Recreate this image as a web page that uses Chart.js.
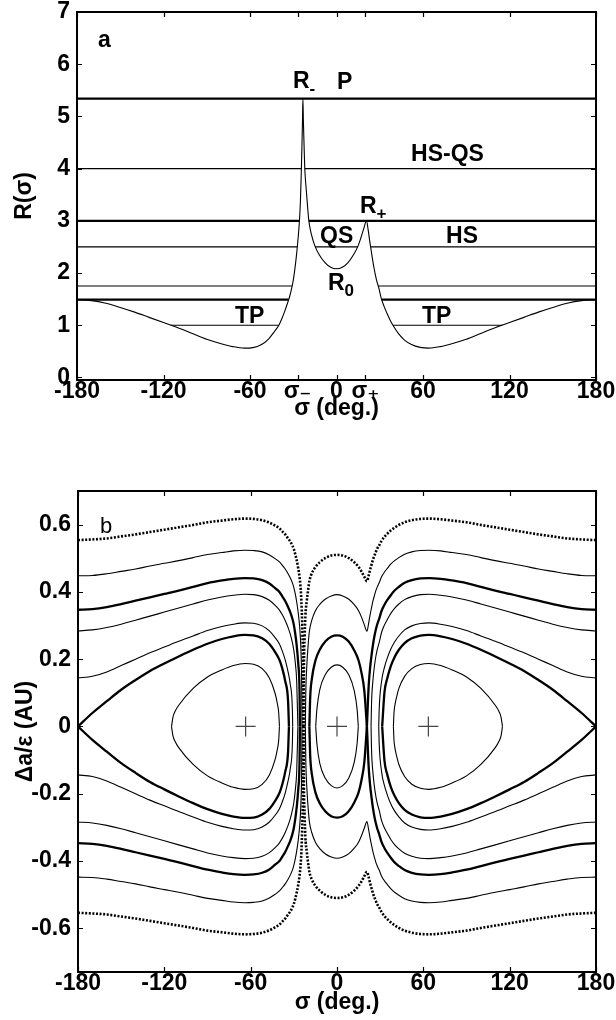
<!DOCTYPE html>
<html>
<head>
<meta charset="utf-8">
<script src="https://cdn.jsdelivr.net/npm/chart.js@4.4.0/dist/chart.umd.min.js"></script>
<style>
  html, body { margin: 0; padding: 0; background: #fff; }
  #wrap { position: relative; width: 616px; height: 1020px; }
  #boxA { position: absolute; left: 0; top: 0; width: 616px; height: 440px; }
  #boxB { position: absolute; left: 0; top: 440px; width: 616px; height: 580px; }
</style>
</head>
<body>
<div id="wrap">
  <div id="boxA"><canvas id="chartA"></canvas></div>
  <div id="boxB"><canvas id="chartB"></canvas></div>
</div>
<script>
// --- panel a : R(sigma) ---
const R_CURVE = [[-180,1.49],[-170,1.47],[-160,1.42],[-150,1.34],[-140,1.25],[-130,1.15],[-120,1.05],[-110,0.95],[-100,0.84],[-90,0.73],[-80,0.645],[-72,0.59],[-64,0.56],[-58,0.57],[-52,0.63],[-47,0.74],[-43,0.88],[-40,1.00],[-38,1.12],[-36,1.26],[-34,1.42],[-32.5,1.55],[-31,1.72],[-30,1.86],[-29,2.05],[-28,2.28],[-27,2.55],[-26,2.88],[-25.5,3.10],[-25,3.40],[-24.5,3.85],[-24,4.40],[-23.6,4.90],[-23.3,5.34],[-23,4.95],[-22.5,4.45],[-22,4.00],[-21,3.60],[-20,3.25],[-19.2,3.00],[-17.5,2.75],[-15,2.52],[-12,2.35],[-8,2.20],[-4,2.11],[0,2.08],[4,2.11],[8,2.20],[12,2.36],[15,2.52],[17,2.68],[19,2.86],[20.8,3.00],[22,2.82],[23,2.62],[24,2.44],[25,2.26],[26,2.10],[27,1.96],[28,1.84],[29.3,1.72],[31,1.52],[33,1.36],[35,1.23],[37.5,1.08],[40,0.96],[43,0.84],[47,0.72],[52,0.63],[58,0.575],[64,0.56],[72,0.59],[80,0.645],[90,0.73],[100,0.84],[110,0.95],[120,1.05],[130,1.15],[140,1.25],[150,1.34],[160,1.42],[170,1.47],[180,1.49]];

// horizontal energy levels, as segments [sigma, R]
const LEVEL_P    = [[[-180,5.34],[180,5.34]]];
const LEVEL_HSQS = [[[-180,4],[-24.36,4]], [[-22,4],[180,4]]];
const LEVEL_3    = [[[-180,3],[-25.77,3]], [[-19.2,3],[180,3]]];
const LEVEL_25   = [[[-180,2.5],[-27.19,2.5]], [[-14.8,2.5],[14.8,2.5]], [[23.67,2.5],[180,2.5]]];
const LEVEL_175  = [[[-180,1.75],[-30.79,1.75]], [[29,1.75],[180,1.75]]];
const LEVEL_149  = [[[-180,1.49],[-33.4,1.49]], [[31.4,1.49],[180,1.49]]];
const LEVEL_1    = [[[-115,1],[-40,1]], [[39.2,1],[115,1]]];

const X_TICKS_A = [-180, -120, -60, -27, 0, 20, 60, 120, 180];
const X_LABELS_A = ['-180', '-120', '-60', 'σ\u208B', '0', 'σ\u208A', '60', '120', '180'];
const Y_TICKS_A = [0, 1, 2, 3, 4, 5, 6, 7];

// --- panel b : upper halves of the Δa/ε contours (lower halves are mirror images) ---
const DA_P_L = [[-180,0.554],[-170,0.556],[-160,0.559],[-150,0.565],[-140,0.571],[-130,0.578],[-120,0.585],[-110,0.592],[-100,0.599],[-90,0.607],[-80,0.612],[-72,0.616],[-64,0.618],[-58,0.617],[-52,0.613],[-47,0.606],[-43,0.597],[-40,0.589],[-38,0.580],[-36,0.571],[-34,0.559],[-32.5,0.550],[-31,0.538],[-30,0.527],[-29,0.512],[-28,0.494],[-27,0.472],[-26,0.443],[-25.5,0.423],[-25,0.393],[-24.5,0.345],[-24,0.274],[-23.6,0.187],[-23.3,0]];
const DA_P_R = [[-23.3,0],[-23,0.176],[-22.5,0.266],[-22,0.327],[-21,0.373],[-20,0.408],[-19.2,0.432],[-17.5,0.455],[-15,0.474],[-12,0.488],[-8,0.501],[-4,0.508],[0,0.510],[4,0.508],[8,0.501],[12,0.488],[15,0.474],[17,0.461],[19,0.445],[20.8,0.432],[22,0.448],[23,0.466],[24,0.481],[25,0.496],[26,0.508],[27,0.519],[28,0.529],[29.3,0.538],[31,0.552],[33,0.564],[35,0.573],[37.5,0.583],[40,0.591],[43,0.599],[47,0.607],[52,0.613],[58,0.617],[64,0.618],[72,0.616],[80,0.612],[90,0.607],[100,0.599],[110,0.592],[120,0.585],[130,0.578],[140,0.571],[150,0.565],[160,0.559],[170,0.556],[180,0.554]];
const DA_4_L = [[-180,0.448],[-170,0.449],[-160,0.454],[-150,0.461],[-140,0.468],[-130,0.477],[-120,0.485],[-110,0.493],[-100,0.502],[-90,0.511],[-80,0.517],[-72,0.522],[-64,0.524],[-58,0.523],[-52,0.519],[-47,0.510],[-43,0.499],[-40,0.489],[-38,0.479],[-36,0.468],[-34,0.454],[-32.5,0.442],[-31,0.427],[-30,0.413],[-29,0.394],[-28,0.370],[-27,0.340],[-26,0.299],[-25.5,0.268],[-25,0.219],[-24.5,0.109],[-24.36,0]];
const DA_4_R = [[-22,0],[-21.7,0.098],[-21,0.179],[-20,0.245],[-19.2,0.283],[-17.5,0.316],[-15,0.344],[-12,0.363],[-8,0.379],[-4,0.388],[0,0.392],[4,0.388],[8,0.379],[12,0.362],[15,0.344],[17,0.325],[19,0.302],[20.8,0.283],[22,0.307],[23,0.332],[24,0.353],[25,0.373],[26,0.389],[27,0.404],[28,0.415],[29.3,0.427],[31,0.445],[33,0.459],[35,0.470],[37.5,0.483],[40,0.493],[43,0.502],[47,0.512],[52,0.519],[58,0.523],[64,0.524],[72,0.522],[80,0.517],[90,0.511],[100,0.502],[110,0.493],[120,0.485],[130,0.477],[140,0.468],[150,0.461],[160,0.454],[170,0.449],[180,0.448]];
const DA_3_L = [[-180,0.347],[-170,0.349],[-160,0.355],[-150,0.364],[-140,0.374],[-130,0.384],[-120,0.394],[-110,0.404],[-100,0.415],[-90,0.426],[-80,0.434],[-72,0.439],[-64,0.441],[-58,0.440],[-52,0.435],[-47,0.425],[-43,0.411],[-40,0.400],[-38,0.387],[-36,0.373],[-34,0.355],[-32.5,0.340],[-31,0.320],[-30,0.302],[-29,0.275],[-28,0.240],[-27,0.190],[-26,0.098],[-25.77,0]];
const DA_3_QS = [[-19.2,0],[-18.6,0.089],[-17.5,0.141],[-15,0.196],[-12,0.228],[-8,0.253],[-4,0.267],[0,0.271],[4,0.267],[8,0.253],[12,0.226],[15,0.196],[17,0.160],[19,0.106],[20.8,0]];
const DA_3_R = [[20.8,0],[22,0.120],[23,0.174],[24,0.211],[25,0.243],[26,0.268],[27,0.288],[28,0.304],[29.3,0.320],[31,0.344],[33,0.362],[35,0.376],[37.5,0.391],[40,0.404],[43,0.415],[47,0.427],[52,0.435],[58,0.440],[64,0.441],[72,0.439],[80,0.434],[90,0.426],[100,0.415],[110,0.404],[120,0.394],[130,0.384],[140,0.374],[150,0.364],[160,0.355],[170,0.349],[180,0.347]];
const DA_25_L = [[-180,0.284],[-170,0.287],[-160,0.294],[-150,0.304],[-140,0.316],[-130,0.328],[-120,0.340],[-110,0.352],[-100,0.364],[-90,0.376],[-80,0.385],[-72,0.390],[-64,0.393],[-58,0.392],[-52,0.386],[-47,0.375],[-43,0.360],[-40,0.346],[-38,0.332],[-36,0.315],[-34,0.294],[-32.5,0.275],[-31,0.249],[-30,0.226],[-29,0.190],[-28,0.133],[-27.19,0]];
const DA_25_QS = [[-14.8,0],[-14,0.05],[-12,0.109],[-8,0.155],[-4,0.176],[0,0.183],[4,0.176],[8,0.155],[12,0.106],[14,0.05],[14.8,0]];
const DA_25_R = [[23.67,0],[24,0.069],[25,0.138],[26,0.179],[27,0.208],[28,0.229],[29.3,0.249],[31,0.280],[33,0.302],[35,0.318],[37.5,0.337],[40,0.351],[43,0.364],[47,0.377],[52,0.386],[58,0.392],[64,0.393],[72,0.390],[80,0.385],[90,0.376],[100,0.364],[110,0.352],[120,0.340],[130,0.328],[140,0.316],[150,0.304],[160,0.294],[170,0.287],[180,0.284]];
const DA_175_L = [[-180,0.144],[-170,0.149],[-160,0.162],[-150,0.181],[-140,0.200],[-130,0.219],[-120,0.236],[-110,0.253],[-100,0.269],[-90,0.285],[-80,0.297],[-72,0.304],[-64,0.308],[-58,0.307],[-52,0.299],[-47,0.284],[-43,0.264],[-40,0.245],[-38,0.224],[-36,0.198],[-34,0.162],[-32.5,0.126],[-31,0.049],[-30.79,0]];
const DA_175_R = [[29,0],[29.3,0.049],[31,0.135],[33,0.176],[35,0.204],[37.5,0.231],[40,0.251],[43,0.269],[47,0.287],[52,0.299],[58,0.306],[64,0.308],[72,0.304],[80,0.297],[90,0.285],[100,0.269],[110,0.253],[120,0.236],[130,0.219],[140,0.200],[150,0.181],[160,0.162],[170,0.149],[180,0.144]];
const DA_149_L = [[-180,0],[-170,0.040],[-160,0.075],[-150,0.109],[-140,0.138],[-130,0.165],[-120,0.187],[-110,0.208],[-100,0.228],[-90,0.246],[-80,0.260],[-72,0.268],[-64,0.272],[-58,0.271],[-52,0.262],[-47,0.245],[-43,0.221],[-40,0.198],[-38,0.172],[-36,0.135],[-34,0.075],[-33.4,0]];
const DA_149_R = [[31.4,0],[33,0.102],[35,0.144],[37.5,0.181],[40,0.206],[43,0.228],[47,0.248],[52,0.262],[58,0.270],[64,0.272],[72,0.268],[80,0.260],[90,0.246],[100,0.228],[110,0.208],[120,0.187],[130,0.165],[140,0.138],[150,0.109],[160,0.075],[170,0.040],[180,0]];
const DA_1_L = [[-115,0],[-114,0.028],[-112.5,0.045],[-110,0.063],[-100,0.113],[-90,0.147],[-80,0.168],[-72,0.181],[-64,0.187],[-58,0.185],[-52,0.172],[-47,0.144],[-43,0.098],[-41.5,0.069],[-40.5,0.040],[-40,0]];
const DA_1_R = [[39.2,0],[39.6,0.040],[40,0.057],[41.5,0.089],[43,0.113],[47,0.149],[52,0.172],[58,0.184],[64,0.187],[72,0.181],[80,0.168],[90,0.147],[100,0.113],[110,0.063],[112.5,0.045],[114,0.028],[115,0]];
const CROSSES = [[-63.5,0],[0,0],[63.5,0]];

const X_TICKS_B = [-180, -120, -60, 0, 60, 120, 180];
const Y_TICKS_B = [-0.6, -0.4, -0.2, 0, 0.2, 0.4, 0.6];

// ---------------------------------------------------------------
const FONT = '"Liberation Sans", Arial, Helvetica, "DejaVu Sans", sans-serif';
const THIN = 1.1, THICK = 2.3, TICK_LEN = 5;
const BOLD = { family: FONT, size: 23, weight: 'bold', lineHeight: 1 };

function branch(arr, width, dash, sign) {
    return {
        data: arr.map(p => ({ x: p[0], y: sign * p[1] })),
        showLine: true,
        borderColor: '#000',
        borderWidth: width,
        borderDash: dash || [],
        pointRadius: 0,
        fill: false,
        cubicInterpolationMode: 'monotone'
    };
}

// frame, inward ticks and in-plot text
const panelPlugin = {
    id: 'panel',
    afterDatasetsDraw(chart, args, opts) {
        const { ctx, chartArea: a, scales: { x, y } } = chart;
        ctx.save();
        ctx.strokeStyle = '#000';
        ctx.lineWidth = 1.2;
        ctx.beginPath();
        x.ticks.forEach(t => {
            const px = Math.round(x.getPixelForValue(t.value)) + 0.5;
            ctx.moveTo(px, a.bottom); ctx.lineTo(px, a.bottom - TICK_LEN);
            ctx.moveTo(px, a.top); ctx.lineTo(px, a.top + TICK_LEN);
        });
        y.ticks.forEach(t => {
            const py = Math.round(y.getPixelForValue(t.value)) + 0.5;
            ctx.moveTo(a.left, py); ctx.lineTo(a.left + TICK_LEN, py);
            ctx.moveTo(a.right, py); ctx.lineTo(a.right - TICK_LEN, py);
        });
        ctx.stroke();
        ctx.lineWidth = 2;
        ctx.strokeRect(a.left, a.top, a.right - a.left, a.bottom - a.top);

        ctx.fillStyle = '#000';
        ctx.textBaseline = 'alphabetic';
        ctx.textAlign = 'left';
        (opts.labels || []).forEach(l => {
            const px = x.getPixelForValue(l.x), py = y.getPixelForValue(l.y);
            ctx.font = l.font || ('bold 23px ' + FONT);
            ctx.fillText(l.text, px, py);
            if (l.sub) {
                const w = ctx.measureText(l.text).width;
                ctx.font = 'bold 17px ' + FONT;
                ctx.fillText(l.sub, px + w, py + 6);
            }
        });
        ctx.restore();
    }
};

const NO_GRID = { display: false, drawTicks: false, tickLength: 0 };

function axisX(ticks, labels, height, titlePad) {
    return {
        type: 'linear', min: -180, max: 180,
        afterBuildTicks: s => { s.ticks = ticks.map(v => ({ value: v })); },
        afterFit: s => { s.height = height; s.paddingLeft = 0; s.paddingRight = 0; },
        grid: NO_GRID,
        border: { display: false },
        ticks: { autoSkip: false, maxRotation: 0, padding: 0, color: '#000', font: BOLD,
                 callback: (v, i) => labels ? labels[i] : String(v) },
        title: { display: true, text: 'σ (deg.)', color: '#000', font: BOLD,
                 padding: { top: 0, bottom: titlePad } }
    };
}

function axisY(min, max, ticks, title) {
    return {
        type: 'linear', min: min, max: max,
        afterBuildTicks: s => { s.ticks = ticks.map(v => ({ value: v })); },
        afterFit: s => { s.width = 77; s.paddingTop = 0; s.paddingBottom = 0; },
        grid: NO_GRID,
        border: { display: false },
        ticks: { padding: 7, color: '#000', font: BOLD,
                 callback: v => String(+v.toFixed(1)) },
        title: { display: true, text: title, color: '#000', font: BOLD,
                 padding: { top: 13, bottom: 0 } }
    };
}

// ---------------- panel a ----------------
const dsA = [branch(R_CURVE, THIN, null, 1)];
[[LEVEL_P, THICK], [LEVEL_HSQS, THIN], [LEVEL_3, THICK], [LEVEL_25, THIN],
 [LEVEL_175, THIN], [LEVEL_149, THICK], [LEVEL_1, THIN]].forEach(([segs, w]) => {
    segs.forEach(seg => dsA.push(branch(seg, w, null, 1)));
});

new Chart(document.getElementById('chartA'), {
    type: 'scatter',
    data: { datasets: dsA },
    options: {
        responsive: true, maintainAspectRatio: false, animation: false,
        devicePixelRatio: 1, events: [],
        layout: { padding: { left: 0, right: 20, top: 12, bottom: 0 } },
        plugins: {
            legend: { display: false },
            tooltip: { enabled: false },
            panel: {
                labels: [
                    { text: 'a', x: -165.4, y: 6.33 },
                    { text: 'R', sub: '-', x: -30.2, y: 5.54 },
                    { text: 'P', x: 0.3, y: 5.53 },
                    { text: 'HS-QS', x: 51.7, y: 4.15 },
                    { text: 'R', sub: '+', x: 16.3, y: 3.15 },
                    { text: 'QS', x: -11.4, y: 2.575 },
                    { text: 'HS', x: 76, y: 2.575 },
                    { text: 'R', sub: '0', x: -5.9, y: 1.67 },
                    { text: 'TP', x: -70.4, y: 1.04 },
                    { text: 'TP', x: 59.3, y: 1.04 }
                ]
            }
        },
        scales: {
            x: axisX(X_TICKS_A, X_LABELS_A, 60, 20),
            y: axisY(-0.05, 7, Y_TICKS_A, 'R(σ)')
        }
    },
    plugins: [panelPlugin]
});

// ---------------- panel b ----------------
const dsB = [];
[[DA_P_L, 2.6, [2, 1.6]], [DA_P_R, 2.6, [2, 1.6]],
 [DA_4_L, THIN], [DA_4_R, THIN],
 [DA_3_L, THICK], [DA_3_QS, THICK], [DA_3_R, THICK],
 [DA_25_L, THIN], [DA_25_QS, THIN], [DA_25_R, THIN],
 [DA_175_L, THIN], [DA_175_R, THIN],
 [DA_149_L, THICK], [DA_149_R, THICK],
 [DA_1_L, THIN], [DA_1_R, THIN]].forEach(([arr, w, dash]) => {
    dsB.push(branch(arr, w, dash, 1));
    dsB.push(branch(arr, w, dash, -1));
});
dsB.push({
    data: CROSSES.map(p => ({ x: p[0], y: p[1] })),
    showLine: false, pointStyle: 'cross', pointRadius: 10,
    borderColor: '#444', borderWidth: 1.2
});

new Chart(document.getElementById('chartB'), {
    type: 'scatter',
    data: { datasets: dsB },
    options: {
        responsive: true, maintainAspectRatio: false, animation: false,
        devicePixelRatio: 1, events: [],
        layout: { padding: { left: 1, right: 20, top: 51, bottom: 0 } },
        plugins: {
            legend: { display: false },
            tooltip: { enabled: false },
            panel: {
                labels: [
                    { text: 'b', x: -164.7, y: 0.575, font: '22px ' + FONT }
                ]
            }
        },
        scales: {
            x: axisX(X_TICKS_B, null, 48, 6),
            y: axisY(-0.73, 0.7, Y_TICKS_B, 'Δa/ε (AU)')
        }
    },
    plugins: [panelPlugin]
});
</script>
</body>
</html>
